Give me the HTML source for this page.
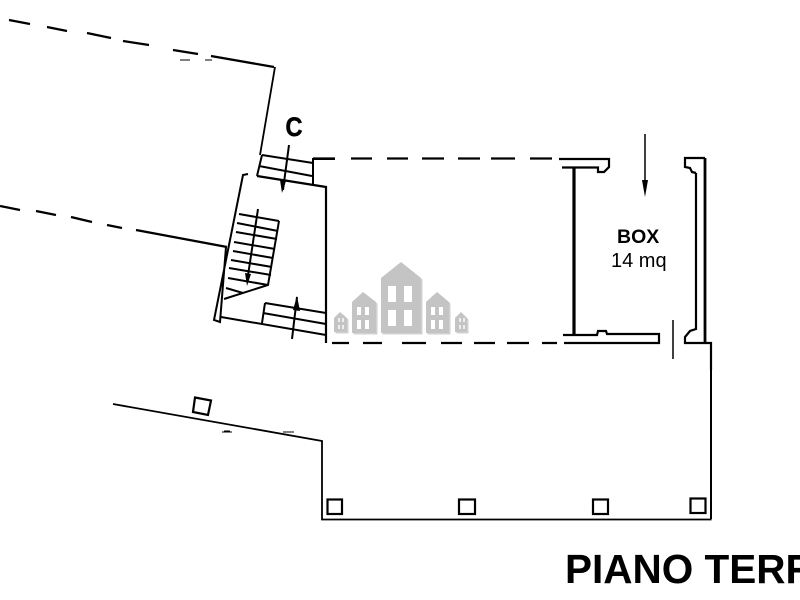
<!DOCTYPE html>
<html>
<head>
<meta charset="utf-8">
<style>
html,body{margin:0;padding:0;background:#fff;width:800px;height:600px;overflow:hidden}
svg{display:block}
text{font-family:"Liberation Sans",sans-serif;fill:#000}
</style>
</head>
<body>
<svg width="800" height="600" viewBox="0 0 800 600" xmlns="http://www.w3.org/2000/svg">
<!-- logo -->
<g fill="#b4b4b4" opacity=".6" transform="translate(1.5,1.5)">
<polygon points="381,278 401,262 421,278 421,333 381,333"/>
<polygon points="352,302 363,292 376,302 376,333 352,333"/>
<polygon points="426,302 437,292 449,302 449,333 426,333"/>
<polygon points="334,318 340,312 347,318 347,332 334,332"/>
<polygon points="455,318 461,312 467,318 467,332 455,332"/>
</g>
<g fill="#c4c4c4">
<polygon points="381,278 401,262 421,278 421,333 381,333"/>
<polygon points="352,302 363,292 376,302 376,333 352,333"/>
<polygon points="426,302 437,292 449,302 449,333 426,333"/>
<polygon points="334,318 340,312 347,318 347,332 334,332"/>
<polygon points="455,318 461,312 467,318 467,332 455,332"/>
</g>
<g fill="#fff">
<rect x="388" y="286" width="8" height="16"/><rect x="404" y="286" width="8" height="16"/>
<rect x="388" y="310" width="8" height="16"/><rect x="404" y="310" width="8" height="16"/>
<rect x="357" y="307" width="4" height="8"/><rect x="365" y="307" width="4" height="8"/>
<rect x="357" y="320" width="4" height="9"/><rect x="365" y="320" width="4" height="9"/>
<rect x="431" y="307" width="4" height="8"/><rect x="439" y="307" width="4" height="8"/>
<rect x="431" y="320" width="4" height="9"/><rect x="439" y="320" width="4" height="9"/>
</g>
<g fill="#eee">
<rect x="338" y="318" width="2" height="4"/><rect x="342" y="318" width="2" height="4"/>
<rect x="338" y="325" width="2" height="4"/><rect x="342" y="325" width="2" height="4"/>
<rect x="459" y="318" width="2" height="4"/><rect x="463" y="318" width="2" height="4"/>
<rect x="459" y="325" width="2" height="4"/><rect x="463" y="325" width="2" height="4"/>
</g>

<g fill="none" stroke="#000" stroke-width="2" stroke-linejoin="miter">
<!-- top-left dashed wall -->
<g stroke-width="2.300">
<path d="M9 20L30 24M47 27L67 31M87 33L111 38M123 41L149 45M173 50L198 54M211 56L274 67"/>
<path d="M0 206L20 210M36 211L56 215M71 217L92 222M107 225L122 228M136 230L227 247"/>
</g>
<path d="M275 67L260 155" stroke-width="1.800"/>
<!-- stairwell -->
<path d="M226 247L220 322L214 320L243 175L248 174"/>
<path d="M257 176L326 187V343" stroke-width="2.200"/>
<path d="M221 317L326 335"/>
<!-- upper steps -->
<path d="M262 155L313 163M259 166L312 176M262 155L257 176M313 186V159H335"/>
<path d="M289 145L283 190"/>
<polygon points="282,193 280,180 286,181" fill="#000" stroke="none"/>
<!-- main stair -->
<path d="M239 214L279 221M237 223L278 231M236 232L277 239M234 242L275 249M233 251L273 258M231 260L272 267M229 268L271 275M228 278L268 285M226 288L243 293"/>
<path d="M279 221L268 285L224 299"/>
<path d="M258 209L247 282"/>
<polygon points="247,286 245,273 251,274" fill="#000" stroke="none"/>
<!-- lower steps -->
<path d="M265 303L326 313M263 313L326 324M265 303L262 323"/>
<path d="M297 297L292 339"/>
<polygon points="297,296 293,310 300,311" fill="#000" stroke="none"/>
<!-- top dashes -->
<path stroke-width="2.200" d="M313 158.500H335M351 158.500H372M387 158.500H408M422 158.500H444M458 158.500H480M491 158.500H515M530 158.500H552"/>
<!-- bottom dashes -->
<path stroke-width="2.200" d="M332 343H349M363 343H382M402 343H426M441 343H462M474 343H495M507 343H529M542 343H557"/>
<!-- box left wall -->
<path stroke-width="2.200" d="M559 159H609V167L604 172H598V167.500H562"/>
<path stroke-width="3.200" d="M574 167V335"/>
<path stroke-width="2.200" d="M563 335H597L598 331H606L607 334H659V343H564"/>
<path stroke-width="1.500" d="M673 320V359"/>
<!-- box right wall -->
<path stroke-width="2.800" d="M705 158V343"/>
<path stroke-width="2.200" d="M696 173V329L690 331L685 337V343H711V370"/>
<path stroke-width="2.200" d="M705 158H685V167L690 168L692 172L696 173"/>
<!-- terrace -->
<path stroke-width="2" d="M711 370V519"/>
<path stroke-width="1.800" d="M711.500 519.500H322V441L113 404"/>
<!-- pillars -->
<g stroke-width="2.200">
<rect x="327.500" y="499.500" width="14.500" height="14.500"/>
<rect x="459" y="499.500" width="16" height="14.500"/>
<rect x="593" y="499.500" width="15" height="14.500"/>
<rect x="690.500" y="498.500" width="15" height="14.500"/>
<polygon points="195,397.500 211,400.500 208,415 193,412"/>
</g>
<!-- box arrow -->
<path stroke-width="1.500" d="M645 134V190"/>
<!-- scan specks -->
<path stroke-width="1" d="M180 60H190M205 60H212M222 432H232M283 432H294M224 431H230"/>
</g>
<polygon points="645,197 642,180 648,180" fill="#000"/>
<text transform="translate(285.500,136) scale(1,1.130)" font-size="23.500" font-weight="700" stroke="#000" stroke-width=".5">C</text>
<text x="617" y="243" font-size="19.500" font-weight="700">BOX</text>
<text x="611" y="267" font-size="20">14 mq</text>
<text x="565" y="583" font-size="40.500" font-weight="700">PIANO TERRA</text>
</svg>
</body>
</html>
